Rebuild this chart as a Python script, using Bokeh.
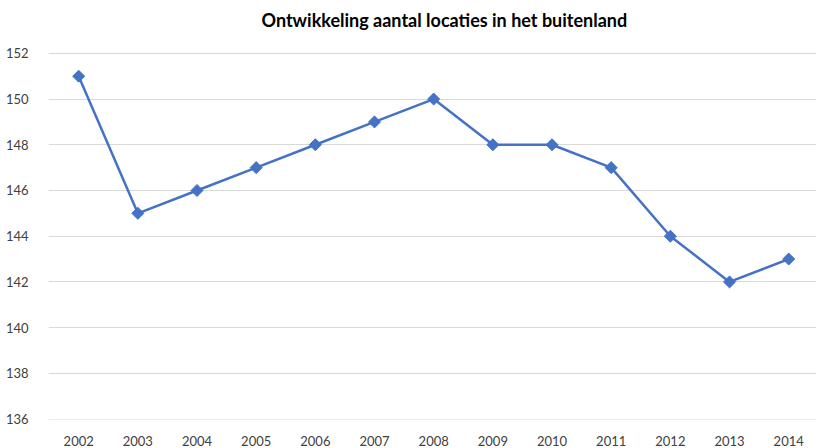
import math
from bokeh.plotting import figure
from bokeh.models import FixedTicker, Range1d
from bokeh.embed import file_html
from bokeh.resources import INLINE

years = [2002, 2003, 2004, 2005, 2006, 2007, 2008, 2009, 2010, 2011, 2012, 2013, 2014]
locaties = [151, 145, 146, 147, 148, 149, 150, 148, 148, 147, 144, 142, 143]
y_ticks = [136, 138, 140, 142, 144, 146, 148, 150, 152]
title_text = "Ontwikkeling aantal locaties in het buitenland"

p = figure(width=816, height=448, output_backend="svg", toolbar_location=None,
           x_range=Range1d(2001.49, 2014.47), y_range=Range1d(135.98, 153.0),
           min_border_left=48, min_border_right=0, min_border_top=30, min_border_bottom=27,
           title=title_text)
p.outline_line_color = None
p.title.align = "left"
p.title.offset = 213
p.title.standoff = 0
p.title.vertical_align = "bottom"
p.title.text_font = "Lato"
p.title.text_font_size = "18px"
p.title.text_font_style = "bold"
p.title.text_color = "#000000"

p.line(years, locaties, line_color="#4472C4", line_width=2.5)
p.scatter(years, locaties, marker="square", angle=math.pi / 4, size=8.5,
          fill_color="#4472C4", line_color="#4472C4")

p.xgrid.grid_line_color = None
p.ygrid.grid_line_color = "#D9D9D9"
p.ygrid.grid_line_width = 1
p.yaxis.ticker = FixedTicker(ticks=y_ticks)
p.xaxis.ticker = FixedTicker(ticks=years)
for ax in (p.xaxis[0], p.yaxis[0]):
    ax.axis_line_color = None
    ax.major_tick_line_color = None
    ax.minor_tick_line_color = None
    ax.major_label_text_font = "Lato"
    ax.major_label_text_font_size = "13px"
    ax.major_label_text_color = "#404040"
p.yaxis.major_label_standoff = 14
p.xaxis.major_label_standoff = 10

open("out.html", "w").write(file_html(p, INLINE))
